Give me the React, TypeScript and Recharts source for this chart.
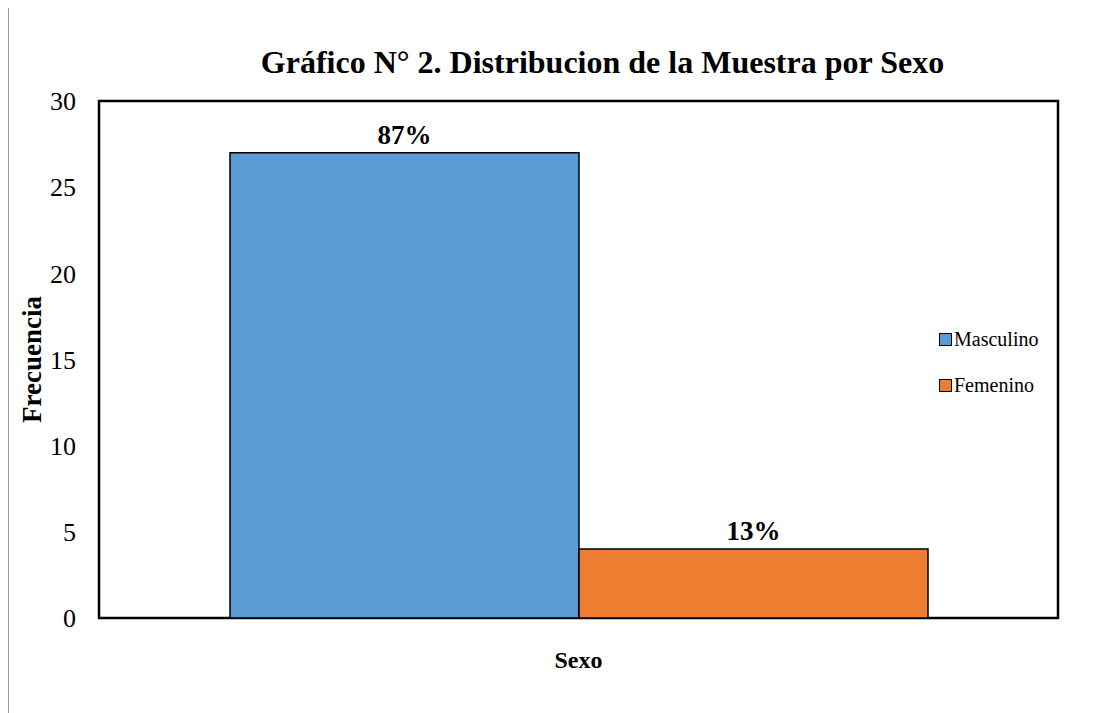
import { Bar, BarChart, LabelList, Legend, ReferenceArea, XAxis, YAxis } from 'recharts'

const CATEGORIES = ['Sexo']
const SERIES = ['Masculino', 'Femenino']
const MASCULINO = [27]
const FEMENINO = [4]
const PERCENT_LABELS = ['87%', '13%']
const Y_TICKS = [0, 5, 10, 15, 20, 25, 30]
const COLORS = ['#5B9BD5', '#ED7D31']

const FONT = '"Liberation Serif", "Times New Roman", serif'

const data = CATEGORIES.map((c, i) => ({
  sexo: c,
  Masculino: MASCULINO[i],
  Femenino: FEMENINO[i],
}))

function LegendBox() {
  return (
    <div style={{ fontFamily: FONT, fontSize: 20, color: '#000' }}>
      {SERIES.map((s, i) => (
        <div key={s} style={{ display: 'flex', alignItems: 'center', height: 24, marginBottom: i === 0 ? 22 : 0 }}>
          <span
            style={{
              display: 'inline-block',
              width: 11,
              height: 11,
              background: COLORS[i],
              border: '1px solid #000',
              marginRight: 2,
            }}
          />
          {s}
        </div>
      ))}
    </div>
  )
}

export default function App() {
  return (
    <div
      style={{
        position: 'relative',
        top: -2,
        width: 1094,
        height: 707,
        borderLeft: '1px solid #999',
        borderTop: '1px solid #999',
        boxSizing: 'border-box',
        background: '#fff',
      }}
    >
      <div
        style={{
          position: 'absolute',
          left: 0,
          width: 1187,
          top: 36,
          textAlign: 'center',
          fontFamily: FONT,
          fontWeight: 'bold',
          fontSize: 32,
          lineHeight: '38px',
          color: '#000',
        }}
      >
        Gráfico N° 2. Distribucion de la Muestra por Sexo
      </div>
      <BarChart
        width={1093}
        height={705}
        data={data}
        margin={{ top: 94, right: 44, left: 30, bottom: 34 }}
        barCategoryGap={131}
        barGap={0}
      >
        <XAxis
          dataKey="sexo"
          tick={false}
          tickLine={false}
          axisLine={false}
          height={60}
          label={{
            value: 'Sexo',
            position: 'insideBottom',
            offset: 10,
            style: { fontFamily: FONT, fontWeight: 'bold', fontSize: 24, fill: '#000' },
          }}
        />
        <YAxis
          domain={[0, 30]}
          ticks={Y_TICKS}
          width={60}
          axisLine={false}
          tickLine={false}
          tickSize={0}
          tickMargin={23}
          tick={{ fontFamily: FONT, fontSize: 26, fill: '#000' }}
          label={{
            value: 'Frecuencia',
            angle: -90,
            position: 'insideLeft',
            offset: -8,
            style: { fontFamily: FONT, fontWeight: 'bold', fontSize: 27, fill: '#000', textAnchor: 'middle' },
          }}
        />
        <Legend
          layout="horizontal"
          align="center"
          verticalAlign="middle"
          content={() => <LegendBox />}
          wrapperStyle={{ position: 'absolute', left: 930, top: 320, width: 150 }}
        />
        {SERIES.map((s, i) => (
          <Bar key={s} dataKey={s} fill={COLORS[i]} stroke="#000" strokeWidth={1.5} isAnimationActive={false}>
            <LabelList
              dataKey={s}
              position="top"
              offset={9}
              formatter={() => PERCENT_LABELS[i]}
              style={{ fontFamily: FONT, fontWeight: 'bold', fontSize: 27, fill: '#000' }}
            />
          </Bar>
        ))}
        <ReferenceArea y1={0} y2={30} fill="none" stroke="#000" strokeWidth={2.5} ifOverflow="visible" />
      </BarChart>
    </div>
  )
}
